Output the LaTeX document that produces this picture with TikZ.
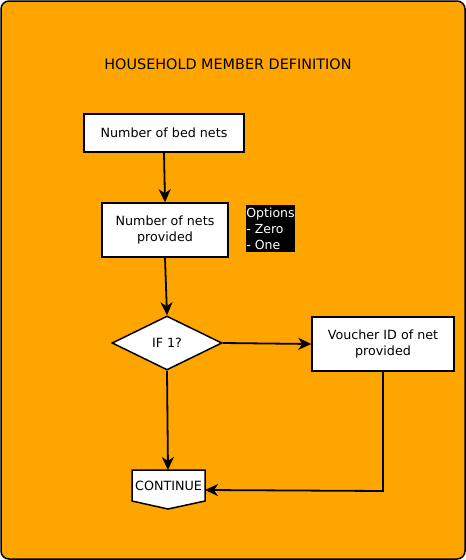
\documentclass[tikz,border=0pt]{standalone}
\usepackage{fontspec}
\setmainfont{DejaVu Sans}
\usetikzlibrary{shapes.geometric,arrows.meta,calc}
\definecolor{bgorange}{HTML}{FFA500}
\tikzset{
  box/.style={draw=black,line width=1.5pt,fill=white,inner sep=0pt,align=center,font=\fontsize{12.7}{16}\selectfont},
  conn/.style={draw=black,line width=1.8pt,-{Stealth[length=13pt,width=12pt,inset=4pt]}},
}
\begin{document}
\begin{tikzpicture}[x=1pt,y=-1pt]
\useasboundingbox (0,0) rectangle (466,560);
\draw[fill=bgorange,line width=1.5pt,rounded corners=8pt] (1,1) rectangle (465,559);
\node[font=\fontsize{14.4}{16}\selectfont] (title) at (228,64) {HOUSEHOLD MEMBER DEFINITION};
\node[box,minimum width=160pt,minimum height=38pt] (b1) at (164,133) {Number of bed nets};
\node[box,minimum width=126pt,minimum height=54pt] (b2) at (165,230) {Number of nets\\provided};
\node[fill=black,text=white,inner sep=0pt,minimum width=49pt,minimum height=47pt,align=left,font=\fontsize{12.5}{16}\selectfont] (opt) at (270.5,228.5) {Options\\- Zero\\- One};
\node[box,diamond,aspect=2.07,minimum width=110pt,minimum height=54pt] (d) at (167,343) {IF 1?};
\node[box,minimum width=142pt,minimum height=54pt] (b3) at (383,344) {Voucher ID of net\\provided};
\coordinate (c1) at (132,470);
\coordinate (c2) at (205,470);
\coordinate (c3) at (205,501);
\coordinate (c4) at (168,509);
\coordinate (c5) at (132,501);
\draw[fill=white,line width=1.5pt,line join=miter] (c1) -- (c2) -- (c3) -- (c4) -- (c5) -- cycle;
\node[inner sep=0pt,font=\fontsize{12.7}{16}\selectfont] (cont) at (168.5,486) {CONTINUE};
\coordinate (ctop) at (168,470);
\coordinate (cright) at (205,490);
\coordinate (corner) at (383,491);
\draw[conn] (b1.south) -- (b2.north);
\draw[conn] (b2.south) -- (d.north);
\draw[conn] (d.east) -- (b3.west);
\draw[conn] (d.south) -- (ctop);
\draw[conn] (b3.south) -- (corner) -- (cright);
\end{tikzpicture}
\end{document}
